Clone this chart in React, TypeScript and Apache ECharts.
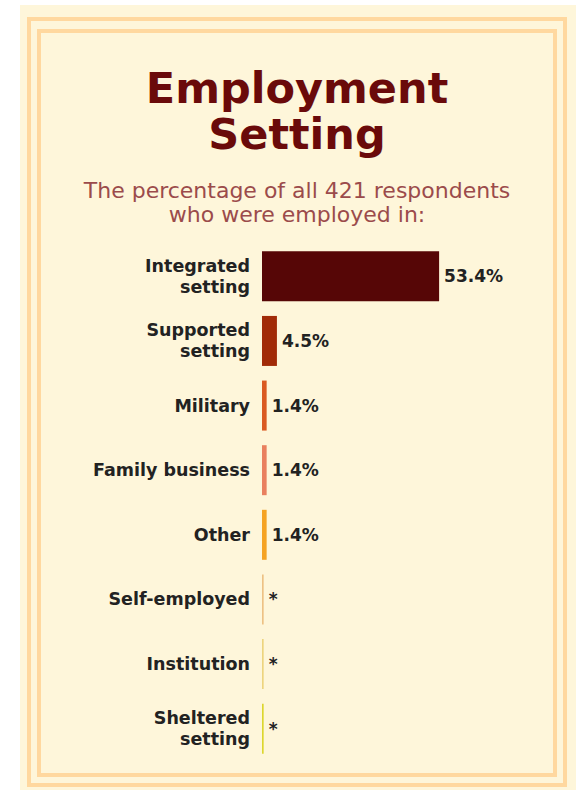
import React, { useEffect, useRef } from "react";
import * as echarts from "echarts";

const categories = [
  "Integrated\nsetting",
  "Supported\nsetting",
  "Military",
  "Family business",
  "Other",
  "Self-employed",
  "Institution",
  "Sheltered\nsetting",
];
const values = [53.4, 4.5, 1.4, 1.4, 1.4, 0.5, 0.5, 0.5];
const valueLabels = ["53.4%", "4.5%", "1.4%", "1.4%", "1.4%", "*", "*", "*"];
const barColors = [
  "#560606",
  "#A12B08",
  "#DA5A22",
  "#E9805F",
  "#F5A323",
  "#EDC184",
  "#EDD47E",
  "#DCD62E",
];
const titleLines = ["Employment", "Setting"];
const subtitleLines = [
  "The percentage of all 421 respondents",
  "who were employed in:",
];

export default function App() {
  const ref = useRef<HTMLDivElement>(null);
  useEffect(() => {
    if (!ref.current) return;
    const chart = echarts.init(ref.current, null, { renderer: "svg" });
    const font = "'DejaVu Sans', sans-serif";
    chart.setOption({
      animation: false,
      backgroundColor: "#ffffff",
      graphic: [
        {
          type: "rect",
          z: -10,
          shape: { x: 20, y: 5, width: 556, height: 785 },
          style: { fill: "#FEF6DA" },
          silent: true,
        },
        {
          type: "rect",
          z: -5,
          shape: { x: 29, y: 19, width: 536, height: 766 },
          style: { fill: "none", stroke: "#FFD89F", lineWidth: 4 },
          silent: true,
        },
        {
          type: "rect",
          z: -5,
          shape: { x: 39, y: 31, width: 516, height: 744 },
          style: { fill: "none", stroke: "#FFD89F", lineWidth: 4 },
          silent: true,
        },
        {
          type: "text",
          x: 297,
          y: 88,
          style: {
            text: titleLines[0],
            font: `bold 43px ${font}`,
            fill: "#6A0A0A",
            align: "center",
            verticalAlign: "middle",
          },
        },
        {
          type: "text",
          x: 297,
          y: 134,
          style: {
            text: titleLines[1],
            font: `bold 43px ${font}`,
            fill: "#6A0A0A",
            align: "center",
            verticalAlign: "middle",
          },
        },
        {
          type: "text",
          x: 297,
          y: 190,
          style: {
            text: subtitleLines[0],
            font: `22px ${font}`,
            fill: "#9B4B4B",
            align: "center",
            verticalAlign: "middle",
          },
        },
        {
          type: "text",
          x: 297,
          y: 214,
          style: {
            text: subtitleLines[1],
            font: `22px ${font}`,
            fill: "#9B4B4B",
            align: "center",
            verticalAlign: "middle",
          },
        },
      ],
      grid: { left: 262, right: 115, top: 244, bottom: 29, containLabel: false },
      xAxis: {
        type: "value",
        min: 0,
        max: 60,
        show: false,
      },
      yAxis: {
        type: "category",
        inverse: true,
        data: categories,
        axisLine: { show: false },
        axisTick: { show: false },
        splitLine: { show: false },
        axisLabel: {
          margin: 12,
          color: "#222222",
          fontFamily: font,
          fontWeight: "bold",
          fontSize: 17.5,
          lineHeight: 21,
          align: "right",
        },
      },
      series: [
        {
          type: "bar",
          barWidth: 50,
          data: values.map((v, i) => ({
            value: v,
            itemStyle: { color: barColors[i] },
          })),
          label: {
            show: true,
            position: "right",
            distance: 5,
            color: "#222222",
            fontFamily: font,
            fontWeight: "bold",
            fontSize: 17,
            formatter: (p: any) => valueLabels[p.dataIndex],
          },
        },
      ],
    });
    return () => chart.dispose();
  }, []);
  return (
    <div
      ref={ref}
      style={{ position: "fixed", left: 0, top: 0, width: 576, height: 790 }}
    />
  );
}
